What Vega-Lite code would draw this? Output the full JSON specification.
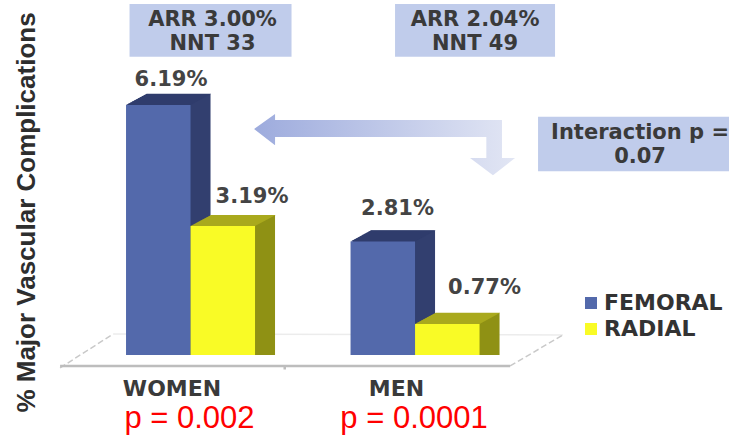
{
"$schema":"https://vega.github.io/schema/vega-lite/v6.json",
"width":729,"height":437,"padding":0,"autosize":{"type":"none"},"background":"white",
"view":{"stroke":null},
"datasets":{
"bars":[
{"group":"WOMEN","access":"FEMORAL","value":6.19,"label":"6.19%"},
{"group":"WOMEN","access":"RADIAL","value":3.19,"label":"3.19%"},
{"group":"MEN","access":"FEMORAL","value":2.81,"label":"2.81%"},
{"group":"MEN","access":"RADIAL","value":0.77,"label":"0.77%"}],
"groups":[
{"group":"WOMEN","risk":"ARR 3.00%\nNNT 33","p":"p = 0.002"},
{"group":"MEN","risk":"ARR 2.04%\nNNT 49","p":"p = 0.0001"}],
"interaction":[{"group":"MEN","text":"Interaction p =\n0.07"}]
},
"encoding":{
"x":{"field":"group","type":"nominal","sort":["WOMEN","MEN"],
"scale":{"domain":["WOMEN","MEN"],"paddingInner":0.425,"paddingOuter":0.836,"align":0.3356},
"axis":{"title":null,"orient":"bottom","offset":-61,"domain":false,"ticks":false,"grid":false,"labelAngle":0,"labelOffset":-18.5,"labelPadding":2,"labelFont":"DejaVu Sans","labelFontWeight":"bold","labelFontSize":22,"labelColor":"#3a3a3a"}}
},
"layer":[
{"data":{"values":[{"group":"WOMEN"}]},
 "encoding":{"y":{"datum":0.124,"type":"quantitative"}},
 "layer":[
  {"mark":{"type":"point","xOffset":121.5,"filled":false,"size":270400,"stroke":"#ececec","strokeWidth":1.5,"opacity":1,"shape":"M-0.765,-0.0615L0.965,-0.058"}},
  {"mark":{"type":"point","xOffset":121.5,"filled":false,"size":270400,"stroke":"#c9c9c9","strokeWidth":1.5,"strokeDash":[6,3],"opacity":1,"shape":"M-0.969,0.069L-0.765,-0.0615M0.762,0.0615L0.965,-0.058"}},
  {"mark":{"type":"point","xOffset":121.5,"filled":false,"size":270400,"stroke":"#bdbdbd","strokeWidth":2.5,"opacity":1,"shape":"M-0.969,0.0615L0.762,0.0615M-0.105,0.0615L-0.105,0.075"}}
 ]},
{"data":{"name":"bars"},
 "encoding":{"y":{"type":"quantitative","field":"value","stack":null,
  "scale":{"domain":[-2.03,8.787],"nice":false,"zero":false},
  "axis":{"orient":"left","title":"% Major Vascular Complications","labels":false,"ticks":false,"domain":false,"grid":false,"titleFont":"Liberation Sans","titleFontWeight":"bold","titleFontSize":26,"titleColor":"#2e2e2e","titleAngle":-90,"titleX":26,"titleY":212,"titleAlign":"center","titleBaseline":"middle"}}},
 "layer":[
 {"transform":[{"filter":"datum.access === 'FEMORAL'"}],
  "layer":[
  {"mark":{"type":"bar","width":64.5,"color":"#323f6f","xOffset":-30.25,"yOffset":-1.1,"y2Offset":-1.1}},
  {"mark":{"type":"bar","width":64.5,"color":"#323f6f","xOffset":-28.25,"yOffset":-2.2,"y2Offset":-2.2}},
  {"mark":{"type":"bar","width":64.5,"color":"#323f6f","xOffset":-26.25,"yOffset":-3.3,"y2Offset":-3.3}},
  {"mark":{"type":"bar","width":64.5,"color":"#323f6f","xOffset":-24.25,"yOffset":-4.4,"y2Offset":-4.4}},
  {"mark":{"type":"bar","width":64.5,"color":"#323f6f","xOffset":-22.25,"yOffset":-5.5,"y2Offset":-5.5}},
  {"mark":{"type":"bar","width":64.5,"color":"#323f6f","xOffset":-20.25,"yOffset":-6.6,"y2Offset":-6.6}},
  {"mark":{"type":"bar","width":64.5,"color":"#323f6f","xOffset":-18.25,"yOffset":-7.7,"y2Offset":-7.7}},
  {"mark":{"type":"bar","width":64.5,"color":"#323f6f","xOffset":-16.25,"yOffset":-8.8,"y2Offset":-8.8}},
  {"mark":{"type":"bar","width":64.5,"color":"#323f6f","xOffset":-14.25,"yOffset":-9.9,"y2Offset":-9.9}},
  {"mark":{"type":"bar","width":64.5,"color":"#323f6f","xOffset":-12.25,"yOffset":-11,"y2Offset":-11}},
  {"mark":{"type":"point","filled":true,"color":"#2f3c6c","opacity":1,"size":4160,"xOffset":-32.25,"shape":"M-1,0L1,0L1.64,-0.344L-0.36,-0.344Z"}},
  {"mark":{"type":"bar","width":64.5,"xOffset":-32.25},"encoding":{"color":{"field":"access","type":"nominal"}}}
 ]},
 {"transform":[{"filter":"datum.access === 'RADIAL'"}],
  "layer":[
  {"mark":{"type":"bar","width":64.5,"color":"#8f9114","xOffset":34.25,"yOffset":-1.1,"y2Offset":-1.1}},
  {"mark":{"type":"bar","width":64.5,"color":"#8f9114","xOffset":36.25,"yOffset":-2.2,"y2Offset":-2.2}},
  {"mark":{"type":"bar","width":64.5,"color":"#8f9114","xOffset":38.25,"yOffset":-3.3,"y2Offset":-3.3}},
  {"mark":{"type":"bar","width":64.5,"color":"#8f9114","xOffset":40.25,"yOffset":-4.4,"y2Offset":-4.4}},
  {"mark":{"type":"bar","width":64.5,"color":"#8f9114","xOffset":42.25,"yOffset":-5.5,"y2Offset":-5.5}},
  {"mark":{"type":"bar","width":64.5,"color":"#8f9114","xOffset":44.25,"yOffset":-6.6,"y2Offset":-6.6}},
  {"mark":{"type":"bar","width":64.5,"color":"#8f9114","xOffset":46.25,"yOffset":-7.7,"y2Offset":-7.7}},
  {"mark":{"type":"bar","width":64.5,"color":"#8f9114","xOffset":48.25,"yOffset":-8.8,"y2Offset":-8.8}},
  {"mark":{"type":"bar","width":64.5,"color":"#8f9114","xOffset":50.25,"yOffset":-9.9,"y2Offset":-9.9}},
  {"mark":{"type":"bar","width":64.5,"color":"#8f9114","xOffset":52.25,"yOffset":-11,"y2Offset":-11}},
  {"mark":{"type":"point","filled":true,"color":"#a9a91d","opacity":1,"size":4160,"xOffset":32.25,"shape":"M-1,0L1,0L1.64,-0.344L-0.36,-0.344Z"}},
  {"mark":{"type":"bar","width":64.5,"xOffset":32.25},"encoding":{"color":{"field":"access","type":"nominal","scale":{"domain":["FEMORAL","RADIAL"],"range":["#5369ab","#f9fb26"]},
    "legend":{"title":null,"orient":"none","legendX":580,"legendY":292,"symbolType":"square","symbolSize":144,"symbolStrokeWidth":0,"rowPadding":4,"labelFont":"DejaVu Sans","labelFontWeight":"bold","labelFontSize":22,"labelColor":"#333333","labelOffset":2,"labelLimit":200,"clipHeight":22}}}}
 ]},
 {"transform":[{"filter":"datum.label === '6.19%'"}],"mark":{"type":"text","font":"DejaVu Sans","fontWeight":"bold","fontSize":21,"color":"#444444","dx":-19.5,"dy":-25},"encoding":{"text":{"field":"label"}}},
 {"transform":[{"filter":"datum.label === '3.19%'"}],"mark":{"type":"text","font":"DejaVu Sans","fontWeight":"bold","fontSize":21,"color":"#444444","dx":61.5,"dy":-29},"encoding":{"text":{"field":"label"}}},
 {"transform":[{"filter":"datum.label === '2.81%'"}],"mark":{"type":"text","font":"DejaVu Sans","fontWeight":"bold","fontSize":21,"color":"#444444","dx":-17.5,"dy":-32},"encoding":{"text":{"field":"label"}}},
 {"transform":[{"filter":"datum.label === '0.77%'"}],"mark":{"type":"text","font":"DejaVu Sans","fontWeight":"bold","fontSize":21,"color":"#444444","dx":69.5,"dy":-36},"encoding":{"text":{"field":"label"}}}
 ]},
{"data":{"values":[{"group":"MEN"}]},
 "mark":{"type":"point","filled":true,"opacity":1,"size":68121,"xOffset":-30.5,"strokeWidth":0,
  "shape":"M-1,-0.115L-0.839,-0.23L-0.839,-0.184L0.9,-0.184L0.9,0.107L1,0.107L0.831,0.238L0.655,0.107L0.78,0.107L0.78,-0.054L-0.839,-0.054L-0.839,0.008Z",
  "color":{"gradient":"linear","x1":0,"y1":0,"x2":1,"y2":0,"stops":[{"offset":0,"color":"#9dabdd"},{"offset":1,"color":"#e2e6f4"}]}},
 "encoding":{"y":{"datum":5.22,"type":"quantitative"}}},
{"data":{"name":"groups"},
 "layer":[
  {"transform":[{"filter":"datum.group === 'WOMEN'"}],"mark":{"type":"bar","color":"#c0cceb","width":162,"xOffset":20},"encoding":{"y":{"datum":8.69,"type":"quantitative"},"y2":{"datum":7.38}}},
  {"transform":[{"filter":"datum.group === 'MEN'"}],"mark":{"type":"bar","color":"#c0cceb","width":160,"xOffset":60},"encoding":{"y":{"datum":8.69,"type":"quantitative"},"y2":{"datum":7.38}}},
  {"transform":[{"filter":"datum.group === 'WOMEN'"}],"mark":{"type":"text","font":"DejaVu Sans","fontWeight":"bold","fontSize":21,"color":"#3a3a3a","dx":22,"dy":-10,"lineBreak":"\n","lineHeight":24},"encoding":{"y":{"datum":8.045,"type":"quantitative"},"text":{"field":"risk"}}},
  {"transform":[{"filter":"datum.group === 'MEN'"}],"mark":{"type":"text","font":"DejaVu Sans","fontWeight":"bold","fontSize":21,"color":"#3a3a3a","dx":60,"dy":-10,"lineBreak":"\n","lineHeight":24},"encoding":{"y":{"datum":8.045,"type":"quantitative"},"text":{"field":"risk"}}},
  {"mark":{"type":"text","font":"Liberation Sans","fontSize":31,"color":"#ff0000","baseline":"alphabetic","dx":-1},"encoding":{"y":{"datum":-1.807,"type":"quantitative"},"text":{"field":"p"}}}
 ]},
{"data":{"name":"interaction"},
 "layer":[
  {"mark":{"type":"bar","color":"#c0cceb","width":191,"xOffset":218.5},"encoding":{"y":{"datum":5.9,"type":"quantitative"},"y2":{"datum":4.55}}},
  {"mark":{"type":"text","font":"DejaVu Sans","fontWeight":"bold","fontSize":21,"color":"#3a3a3a","dx":225,"dy":-11.5,"lineBreak":"\n","lineHeight":24},"encoding":{"y":{"datum":5.22,"type":"quantitative"},"text":{"field":"text"}}}
 ]}
]
}
